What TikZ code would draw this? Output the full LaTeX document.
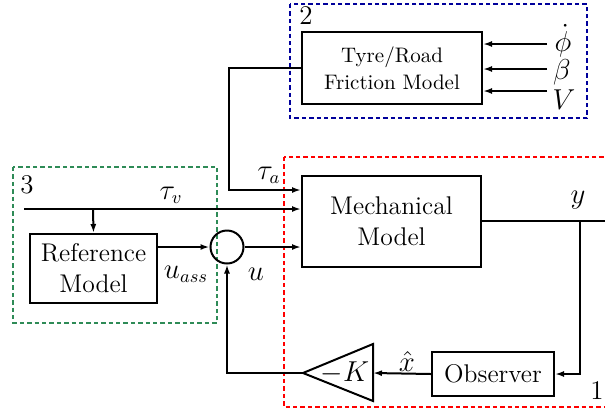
\documentclass[tikz,border=0pt]{standalone}
\usetikzlibrary{arrows.meta,shapes.geometric}
\definecolor{bxblue}{RGB}{0,0,155}
\definecolor{bxgreen}{RGB}{46,139,87}
\definecolor{bxred}{RGB}{255,0,0}
\begin{document}
\begin{tikzpicture}[x=0.5pt,y=-0.5pt,
  line width=1pt,
  blk/.style={draw,line width=1pt,rectangle,align=center,inner sep=0pt,font=\fontsize{12.8}{15.5}\selectfont},
  sblk/.style={blk,font=\fontsize{10.5}{13.5}\selectfont},
  lab/.style={inner sep=0pt,font=\fontsize{13.5}{16}\selectfont},
  blab/.style={inner sep=0pt,font=\fontsize{13.5}{16}\selectfont},
  arr/.style={-{Latex[length=4.5pt,width=3pt]},line width=1pt},
  ln/.style={line width=1pt},
  grp/.style={line width=1pt,dash pattern=on 2.2pt off 1.5pt}]
\useasboundingbox (0,0) rectangle (605,414);
% group boxes
\draw[grp,bxblue] (290,4) rectangle (587,118);
\draw[grp,bxgreen] (13,167) rectangle (217,323);
\draw[grp,bxred] (284,157) rectangle (612,407);
\node[lab] (g2) at (306,16) {2};
\node[lab] (g3) at (27,185) {3};
\node[lab] (g1) at (597,391) {1};
% blocks
\node[sblk,minimum width=90pt,minimum height=36pt] (tyre) at (392,68) {Tyre/Road\\Friction Model};
\node[blk,minimum width=89.5pt,minimum height=45.5pt] (mech) at (391.5,221.5) {Mechanical\\Model};
\node[blk,minimum width=63.5pt,minimum height=34.5pt] (ref) at (93.5,268.5) {Reference\\Model};
\node[blk,minimum width=61pt,minimum height=22pt] (obs) at (493,374) {Observer};
\node[draw,circle,line width=1pt,minimum size=16.5pt,inner sep=0pt] (sum) at (227,247) {};
% gain triangle
\coordinate (ktip) at (303,373);
\coordinate (kbase) at (373,373);
\draw[ln,line join=miter] (373,344) -- (373,401) -- (ktip) -- cycle;
\node[lab] (kt) at (345,373) {$-K$};
% tyre inputs
\coordinate (i1) at (547,44);
\coordinate (i2) at (547,69);
\coordinate (i3) at (547,91);
\draw[arr] (i1) -- (tyre.east |- i1);
\draw[arr] (i2) -- (tyre.east |- i2);
\draw[arr] (i3) -- (tyre.east |- i3);
\node[blab] (lphi) at (563,41) {$\dot\phi$};
\node[blab] (lbeta) at (562,72) {$\beta$};
\node[blab] (lV) at (564,100) {$V$};
% tau_a
\coordinate (ta1) at (229,68);
\coordinate (ta2) at (229,190);
\draw[arr] (tyre.west) -- (ta1) -- (ta2) -- (mech.west |- ta2);
\node[lab] (lta) at (269,175) {$\tau_a$};
% tau_v
\coordinate (tv0) at (24,209);
\coordinate (tvb) at (93,209);
\draw[arr] (tv0) -- (mech.west |- tv0);
\draw[arr] (tvb) -- (ref.north);
\node[lab] (ltv) at (171,195) {$\tau_v$};
% ref to sum, sum to mech
\draw[arr] (ref.east |- sum.west) -- (sum.west);
\draw[arr] (sum.east) -- (mech.west |- sum.east);
\node[lab] (luass) at (186,274) {$u_{ass}$};
\node[lab] (lu) at (256,274) {$u$};
% output
\coordinate (yend) at (607,221);
\coordinate (yb) at (580,221);
\coordinate (yb2) at (580,374);
\draw[ln] (mech.east |- yend) -- (yend);
\draw[arr] (yb) -- (yb2) -- (obs.east);
\node[lab] (ly) at (578,200) {$y$};
% observer to gain
\draw[arr] (obs.west) -- (kbase);
\node[lab] (lxh) at (407,361) {$\hat{x}$};
% feedback
\coordinate (fb) at (227,373);
\draw[arr] (ktip) -- (fb) -- (sum.south);
\end{tikzpicture}
\end{document}
